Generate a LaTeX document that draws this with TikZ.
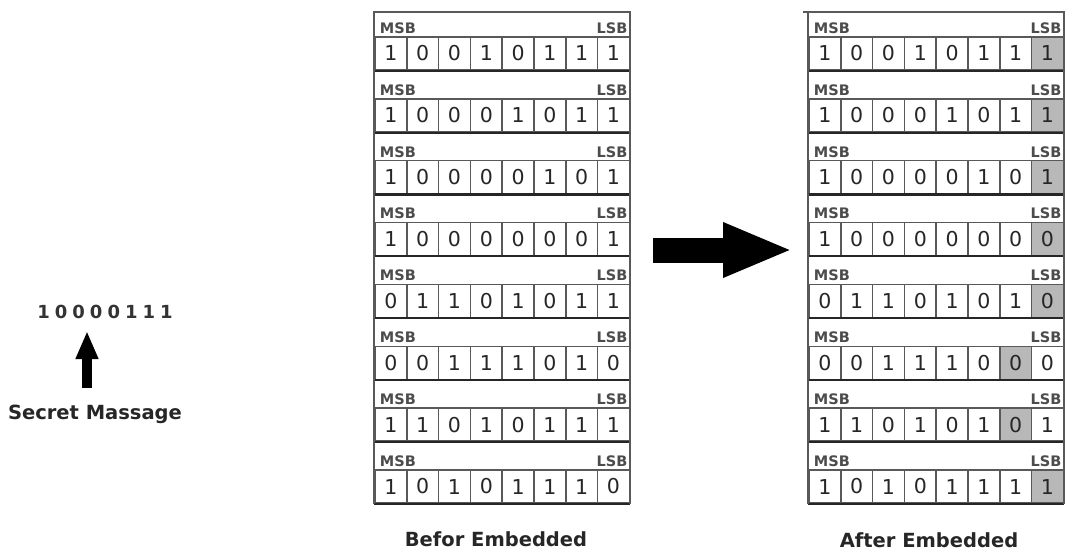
\documentclass[tikz,border=0pt]{standalone}
\usepackage{fontspec}
\setmainfont{DejaVu Sans}
\newfontfamily\msgfont[LetterSpace=28]{DejaVu Sans}
\usetikzlibrary{arrows.meta, positioning, backgrounds}

\begin{document}
\begin{tikzpicture}[
        x=1pt, y=-1pt,
        cell/.style={draw=black!65, line width=1.5pt, minimum width=31.8pt, minimum height=33pt, inner sep=0pt, font=\fontsize{20.5}{20.5}\selectfont, text=black!85},
        tag/.style={inner sep=2.5pt, font=\bfseries\fontsize{14.5}{14.5}\selectfont, text=black!70},
        caption/.style={font=\bfseries\fontsize{19.5}{22}\selectfont, text=black!85},
        rowline/.style={draw=black!85, line width=2.2pt},
        frame/.style={draw=black!65, line width=1.8pt},
        lsbfill/.style={fill=black!28},
        bigarrow/.style={line width=25pt, -{Triangle[length=70pt, width=50pt]}},
        smallarrow/.style={line width=10pt, -{Triangle[length=28pt, width=21pt]}}
    ]
        \useasboundingbox (0,0) rectangle (1065,552);

        % Bytes before embedding
        \foreach \g/\bits in {1/{1,0,0,1,0,1,1,1}, 2/{1,0,0,0,1,0,1,1}, 3/{1,0,0,0,0,1,0,1}, 4/{1,0,0,0,0,0,0,1},
                              5/{0,1,1,0,1,0,1,1}, 6/{0,0,1,1,1,0,1,0}, 7/{1,1,0,1,0,1,1,1}, 8/{1,0,1,0,1,1,1,0}}
            \foreach \b [count=\c] in \bits
                \node[cell] (L-\g-\c) at ({375+31.8*(\c-0.5)}, {70+61.86*(\g-1)-16.5}) {\b};

        % Bytes after embedding
        \foreach \g/\bits in {1/{1,0,0,1,0,1,1,1}, 2/{1,0,0,0,1,0,1,1}, 3/{1,0,0,0,0,1,0,1}, 4/{1,0,0,0,0,0,0,0},
                              5/{0,1,1,0,1,0,1,0}, 6/{0,0,1,1,1,0,0,0}, 7/{1,1,0,1,0,1,0,1}, 8/{1,0,1,0,1,1,1,1}}
            \foreach \b [count=\c] in \bits
                \node[cell] (R-\g-\c) at ({809+31.8*(\c-0.5)}, {70+61.86*(\g-1)-16.5}) {\b};

        % Changed bits
        \begin{scope}[on background layer]
            \foreach \g/\c in {1/8, 2/8, 3/8, 4/8, 5/8, 6/7, 7/7, 8/8}
                \fill[lsbfill] (R-\g-\c.south west) rectangle (R-\g-\c.north east);
        \end{scope}

        % MSB / LSB tags and row separators
        \foreach \t in {L, R}
            \foreach \g in {1,...,8} {
                \node[tag, anchor=south west, xshift=3pt] (\t-msb-\g) at (\t-\g-1.north west) {MSB};
                \node[tag, anchor=south east] (\t-lsb-\g) at (\t-\g-8.north east) {LSB};
                \draw[rowline] (\t-\g-1.south west) -- (\t-\g-8.south east);
            }

        % Outer frames
        \coordinate (L-top) at (375,12);
        \coordinate (R-top) at (803,12);
        \draw[frame] (L-8-1.south west) -- (L-8-1.south west |- L-top) -- (L-8-8.south east |- L-top) -- (L-8-8.south east);
        \draw[frame] (R-top) -- (R-8-8.south east |- R-top) -- (R-8-8.south east);
        \draw[frame] (R-8-1.south west) -- (R-8-1.south west |- R-top);

        % Big arrow between the tables
        \coordinate (push-a) at (653,250);
        \coordinate (push-b) at (793,250);
        \draw[bigarrow] (push-a) -- (push-b);

        % Secret message
        \node[anchor=base, font=\msgfont\bfseries\fontsize{18}{18}\selectfont, text=black!80] (msg) at (105,318) {10000111};
        \node[caption, anchor=base] (secret) at (95,419) {Secret Massage};
        \coordinate (up-a) at (87,388);
        \coordinate (up-b) at (87,331);
        \draw[smallarrow] (up-a) -- (up-b);

        % Captions
        \node[caption, anchor=base] (before) at (496,546) {Befor Embedded};
        \node[caption, anchor=base] (after) at (929,547.5) {After Embedded};

    \end{tikzpicture}
\end{document}
